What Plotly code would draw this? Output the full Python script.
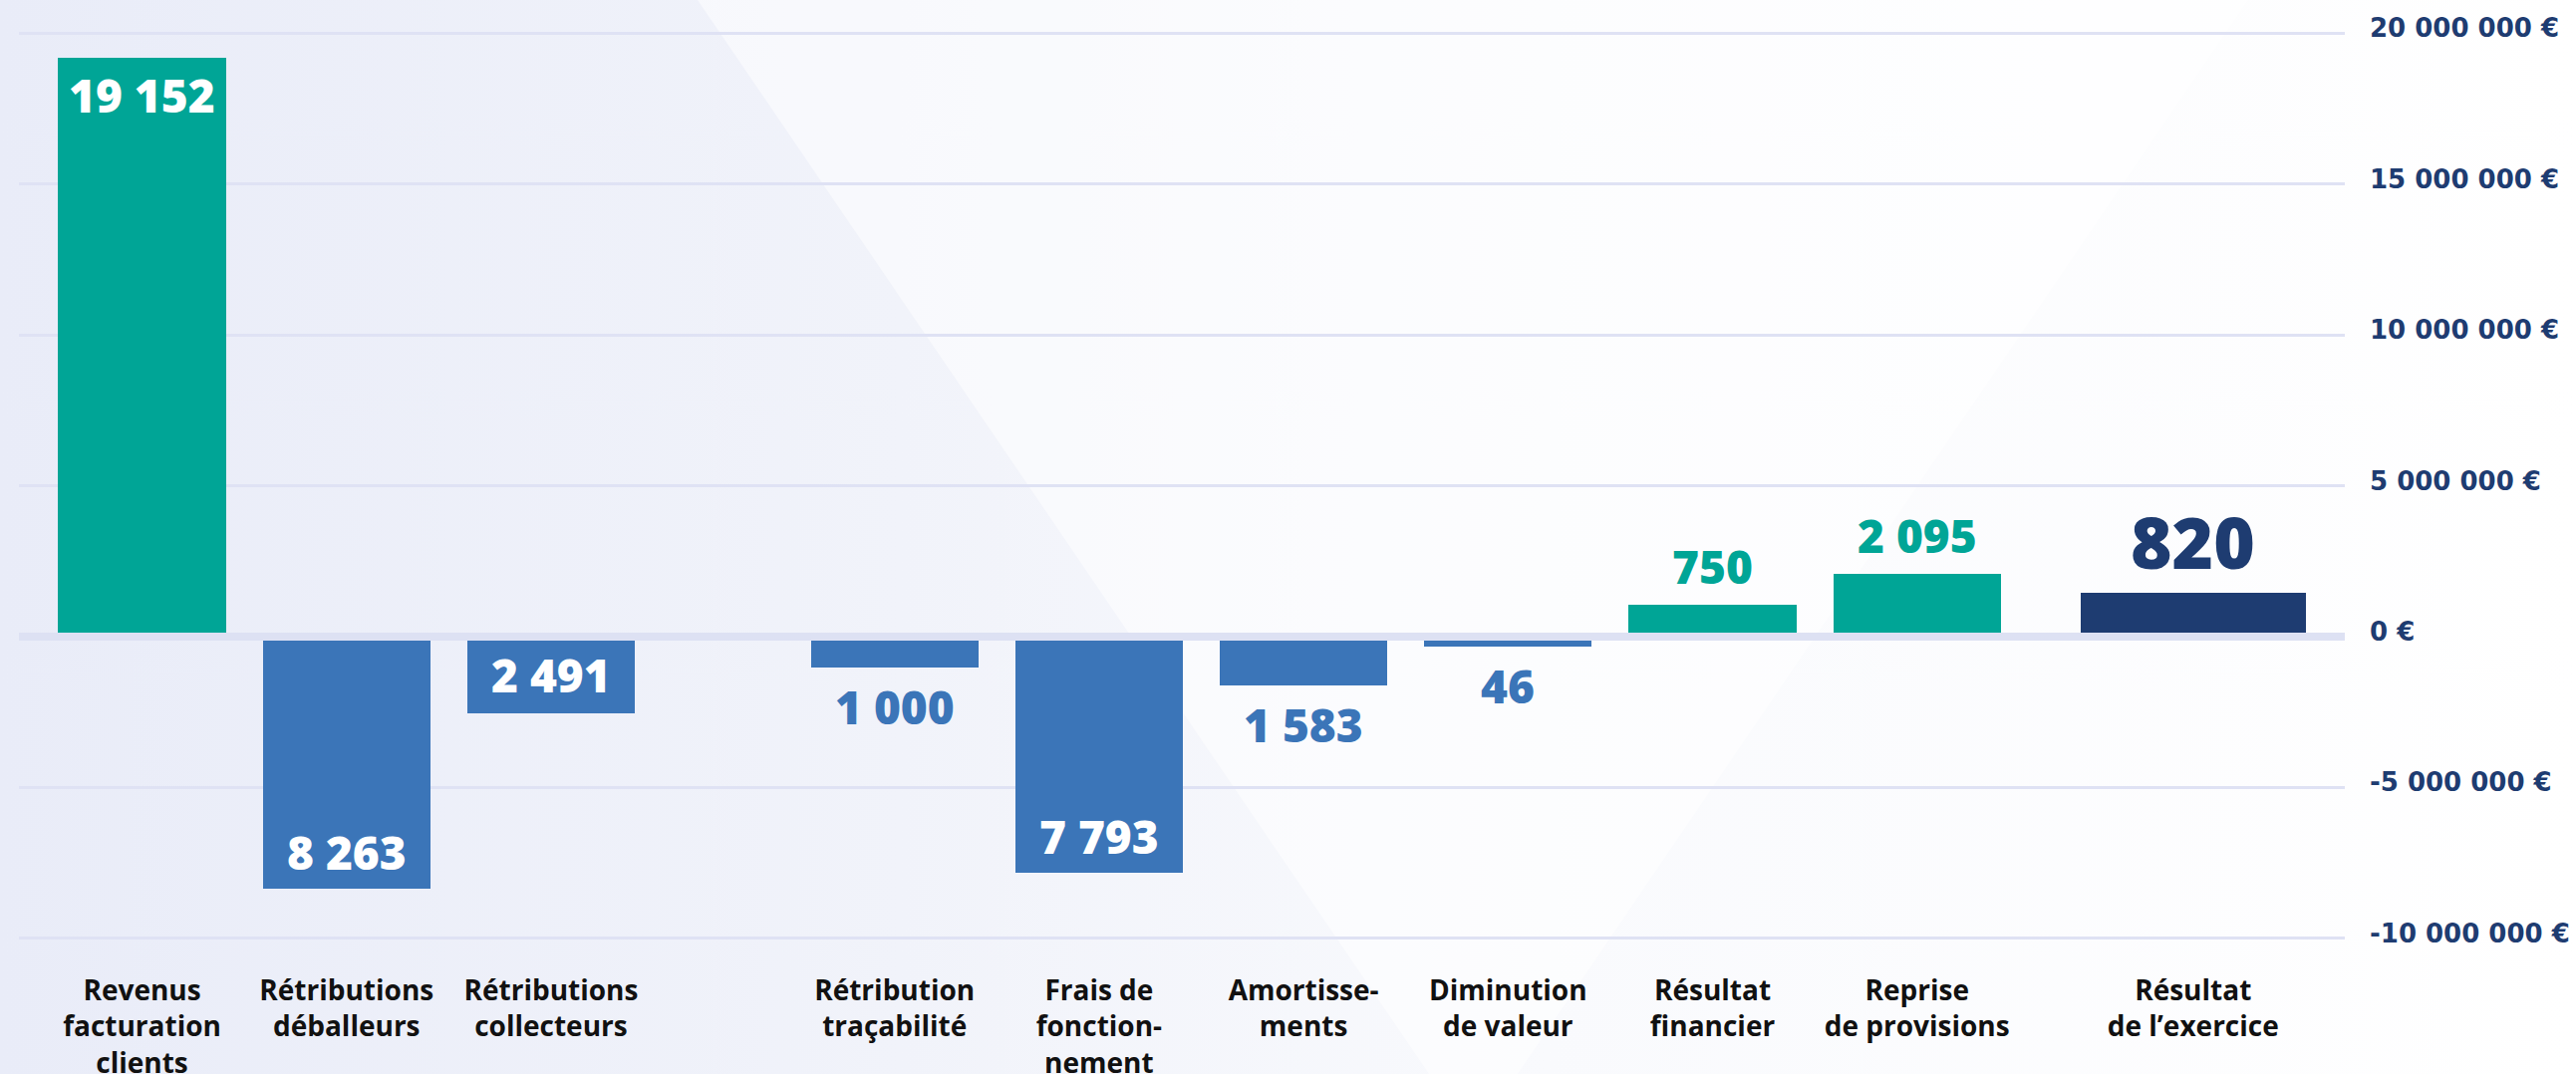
import base64
import plotly.graph_objects as go

# ---------------- data ----------------
categories = [
    "Revenus<br>facturation<br>clients",
    "Rétributions<br>déballeurs",
    "Rétributions<br>collecteurs",
    "Rétribution<br>traçabilité",
    "Frais de<br>fonction-<br>nement",
    "Amortisse-<br>ments",
    "Diminution<br>de valeur",
    "Résultat<br>financier",
    "Reprise<br>de provisions",
    "Résultat<br>de l’exercice",
]
# bar heights in euros, as drawn in the picture
bar_values = [19200000, -8350000, -2540000, -1020000, -7840000,
              -1610000, -320000, 1050000, 2080000, 1450000]
# printed labels (thousands of euros)
value_labels = ["19 152", "8 263", "2 491", "1 000", "7 793",
                "1 583", "46", "750", "2 095", "820"]
bar_kinds = ["produit", "charge", "charge", "charge", "charge",
             "charge", "charge", "produit", "produit", "resultat"]
y_tick_values = [-10000000, -5000000, 0, 5000000, 10000000, 15000000, 20000000]
y_tick_labels = ["-10 000 000 €", "-5 000 000 €", "0 €", "5 000 000 €",
                 "10 000 000 €", "15 000 000 €", "20 000 000 €"]

# ---------------- layout / style ----------------
x_positions = [0, 1, 2, 3.68, 4.68, 5.68, 6.68, 7.68, 8.68, 10.03]
bar_widths = [0.82] * 9 + [1.1]
label_placement = ["inside", "inside", "middle", "outside", "inside",
                   "outside", "outside", "outside", "outside", "outside"]
kind_colors = {"produit": "#00A596", "charge": "#3B75B8", "resultat": "#1E3C71"}
W, H = 2585, 1078
M_L, M_R, M_T, M_B = 19, 232, 0, 123
GRID = "#dfe2f4"
NAVY = "#1E3C71"

colors = [kind_colors[k] for k in bar_kinds]

fig = go.Figure()
fig.add_trace(go.Bar(
    x=x_positions, y=bar_values, width=bar_widths,
    marker=dict(color=colors, line=dict(width=0)),
    hoverinfo="skip", showlegend=False,
))

# value labels
for xp, v, lab, kind, place in zip(x_positions, bar_values, value_labels,
                                   bar_kinds, label_placement):
    size = 71 if kind == "resultat" else 46
    off = size * 0.5 + 16
    sign = 1 if v >= 0 else -1
    if place == "middle":
        y, shift, col = v / 2, 0, "white"
    elif place == "inside":
        y, shift, col = v, -sign * 37, "white"
    else:
        y, shift, col = v, sign * off, kind_colors[kind]
    fig.add_annotation(
        x=xp, y=y, xref="x", yref="y", text=lab, showarrow=False,
        yanchor="middle", xanchor="center", yshift=shift,
        font=dict(family="Open Sans", size=size, color=col, weight=800),
    )

# zero band drawn over the bars
fig.add_shape(type="line", xref="paper", x0=0, x1=1, yref="y", y0=0, y1=0,
              line=dict(color="#dde1f3", width=8), layer="above")

# background image (gradient + light wedge)
svg = f"""<svg xmlns='http://www.w3.org/2000/svg' width='{W}' height='{H}' viewBox='0 0 {W} {H}' preserveAspectRatio='none'>
<defs><linearGradient id='g' x1='0' y1='0' x2='1' y2='0'>
<stop offset='0' stop-color='#e9ecf8'/><stop offset='0.35' stop-color='#f1f3fa'/>
<stop offset='0.6' stop-color='#f9fafd'/><stop offset='1' stop-color='#ffffff'/></linearGradient></defs>
<rect width='{W}' height='{H}' fill='url(#g)'/>
<polygon points='700,0 2256,0 1523,{H} 1434,{H}' fill='#ffffff' fill-opacity='0.5'/>
</svg>"""
src = "data:image/svg+xml;base64," + base64.b64encode(svg.encode()).decode()
pw, ph = W - M_L - M_R, H - M_T - M_B
fig.add_layout_image(dict(
    source=src, xref="paper", yref="paper",
    x=-M_L / pw, y=1 + M_T / ph, sizex=W / pw, sizey=H / ph,
    xanchor="left", yanchor="top", sizing="stretch", layer="below",
))

fig.update_layout(
    width=W, height=H,
    margin=dict(l=M_L, r=M_R, t=M_T, b=M_B, autoexpand=False),
    paper_bgcolor="white", plot_bgcolor="rgba(0,0,0,0)",
    bargap=0,
    xaxis=dict(
        range=[-0.602, 10.772], tickmode="array", tickvals=x_positions,
        ticktext=[f"<b>{c}</b>" for c in categories],
        showgrid=False, zeroline=False, showline=False, ticks="",
        tickfont=dict(family="Open Sans", size=28, color="#111111"),
        ticklabelstandoff=20, fixedrange=True, automargin=False,
    ),
    yaxis=dict(
        range=[-10440000, 21100000], side="right",
        tickmode="array", tickvals=y_tick_values, ticktext=y_tick_labels,
        showgrid=True, gridcolor=GRID, gridwidth=3,
        zeroline=False, showline=False, ticks="",
        tickfont=dict(family="DejaVu Sans", size=26, color=NAVY, weight=700),
        ticklabelstandoff=24, ticklabelshift=-5, fixedrange=True,
        automargin=False,
    ),
)

fig.write_html(
    "out.html",
    config={"displayModeBar": False},
    post_script="document.body.style.margin='0px';document.body.style.overflow='hidden';",
)
